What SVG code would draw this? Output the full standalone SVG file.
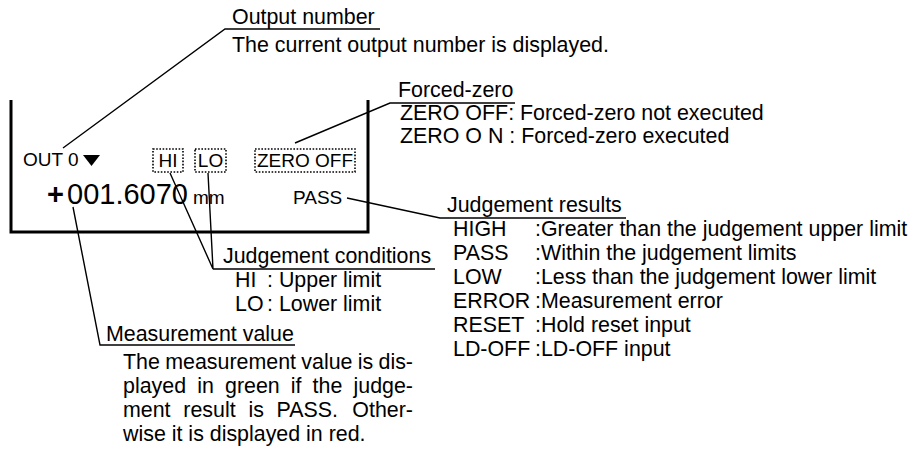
<svg xmlns="http://www.w3.org/2000/svg" width="919" height="449" viewBox="0 0 919 449">
  <style>
    text { font-family: "Liberation Sans", Arial, sans-serif; fill: #000; }
    .t { font-size: 21.4px; }
    .d { font-size: 19px; }
    .big { font-size: 29px; }
    .lead { stroke: #000; stroke-width: 1.4; fill: none; }
    .frame { stroke: #000; stroke-width: 3; fill: none; }
    .dot { stroke: #000; stroke-width: 1.6; stroke-dasharray: 1.6 1.6; fill: none; }
  </style>
  <rect width="919" height="449" fill="#fff"/>

  <!-- display panel -->
  <g id="display">
    <path class="frame" d="M11,100 V232 H368 V100"/>
    <text class="d" x="23" y="166">OUT 0</text>
    <polygon points="83,155 100,155 91.5,166" fill="#000"/>
    <rect class="dot" x="153" y="149" width="30" height="23"/>
    <text class="d" x="168" y="167" text-anchor="middle">HI</text>
    <rect class="dot" x="195" y="149" width="31" height="23"/>
    <text class="d" x="210.5" y="167" text-anchor="middle">LO</text>
    <rect class="dot" x="255" y="149" width="100" height="23"/>
    <text class="d" x="305" y="167" text-anchor="middle">ZERO OFF</text>
    <text class="big" x="47" y="204" font-weight="bold">+</text>
    <text class="big" x="67" y="204">001.6070</text>
    <text class="d" x="193" y="204">mm</text>
    <text class="d" x="293" y="204">PASS</text>
  </g>

  <!-- callout labels -->
  <g id="output-number">
    <text class="t" x="232" y="24">Output number</text>
    <text class="t" x="232" y="52">The current output number is displayed.</text>
  </g>

  <g id="forced-zero">
    <text class="t" x="398" y="97">Forced-zero</text>
    <text class="t" x="400" y="120">ZERO OFF: Forced-zero not executed</text>
    <text class="t" x="400" y="143">ZERO O N : Forced-zero executed</text>
  </g>

  <g id="judgement-results">
    <text class="t" x="447" y="212">Judgement results</text>
    <text class="t" x="453" y="236">HIGH</text>
    <text class="t" x="535" y="236">:Greater than the judgement upper limit</text>
    <text class="t" x="453" y="260">PASS</text>
    <text class="t" x="535" y="260">:Within the judgement limits</text>
    <text class="t" x="453" y="284">LOW</text>
    <text class="t" x="535" y="284">:Less than the judgement lower limit</text>
    <text class="t" x="453" y="308">ERROR</text>
    <text class="t" x="535" y="308">:Measurement error</text>
    <text class="t" x="453" y="332">RESET</text>
    <text class="t" x="535" y="332">:Hold reset input</text>
    <text class="t" x="453" y="356">LD-OFF</text>
    <text class="t" x="535" y="356">:LD-OFF input</text>
  </g>

  <g id="judgement-conditions">
    <text class="t" x="223" y="263">Judgement conditions</text>
    <text class="t" x="235" y="287">HI</text>
    <text class="t" x="267" y="287">: Upper limit</text>
    <text class="t" x="235" y="311">LO</text>
    <text class="t" x="267" y="311">: Lower limit</text>
  </g>

  <!-- justified paragraph: words placed so each full line runs 123..413 -->
  <g id="measurement-value">
    <text class="t" x="106" y="341">Measurement value</text>
    <text class="t" y="369"><tspan x="123">The</tspan><tspan x="165.2">measurement</tspan><tspan x="301.3">value</tspan><tspan x="357.8">is</tspan><tspan x="378.5">dis-</tspan></text>
    <text class="t" y="393"><tspan x="123">played</tspan><tspan x="197.2">in</tspan><tspan x="225">green</tspan><tspan x="290.8">if</tspan><tspan x="312.6">the</tspan><tspan x="353.5">judge-</tspan></text>
    <text class="t" y="417"><tspan x="123">ment</tspan><tspan x="183.3">result</tspan><tspan x="248.4">is</tspan><tspan x="276.6">PASS.</tspan><tspan x="352.3">Other-</tspan></text>
    <text class="t" x="123" y="441">wise it is displayed in red.</text>
  </g>

  <!-- leader lines with their underlines -->
  <g id="connectors">
    <path class="lead" d="M63,148 L225,29 H380"/>
    <path class="lead" d="M295,143 L390,103 H515"/>
    <path class="lead" d="M347,198 L440,218 H626"/>
    <path class="lead" d="M170,173 L213,269 L208,173 M213,269 H435"/>
    <path class="lead" d="M73,207 L100,345 H295"/>
  </g>
</svg>
